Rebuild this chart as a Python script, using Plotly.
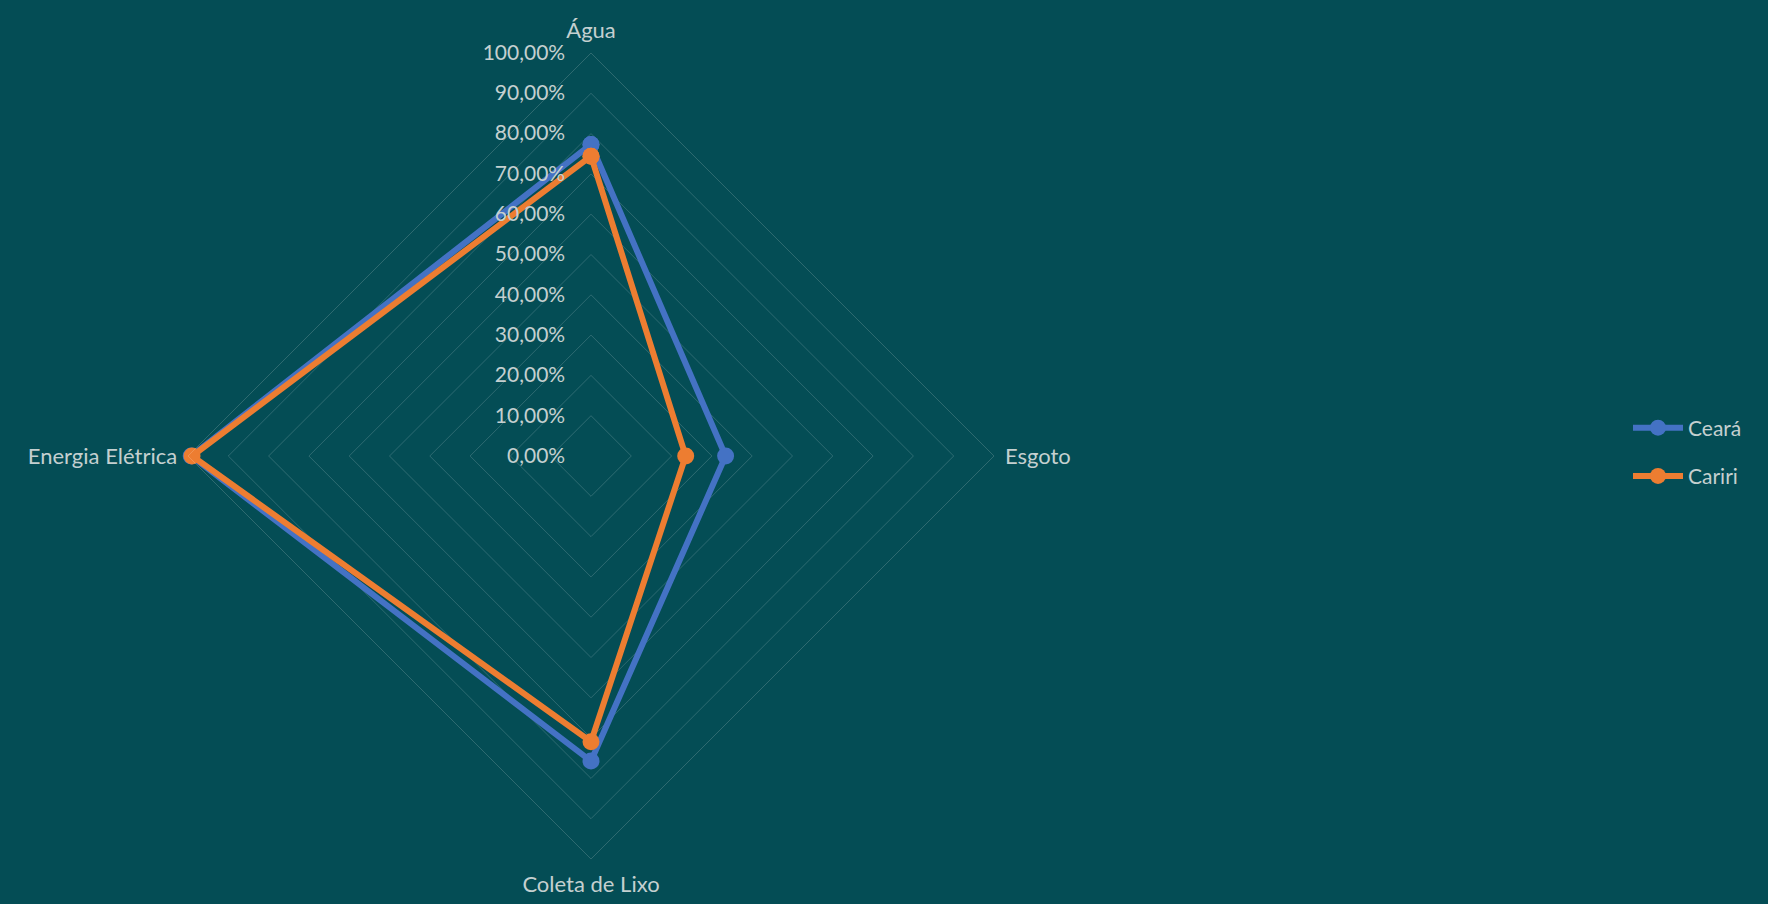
import plotly.graph_objects as go

categories = ["Água", "Esgoto", "Coleta de Lixo", "Energia Elétrica"]
ceara = [0.773, 0.334, 0.757, 0.992]
cariri = [0.744, 0.235, 0.709, 0.990]
series_names = ["Ceará", "Cariri"]
colors = ["#4472C4", "#ED7D31"]
tick_vals = [0, 0.1, 0.2, 0.3, 0.4, 0.5, 0.6, 0.7, 0.8, 0.9, 1.0]

BG = "#044D55"
TXT = "#C4D0D0"
GRID = "rgba(255,255,255,0.17)"

fig = go.Figure()
for name, vals, col in zip(series_names, [ceara, cariri], colors):
    fig.add_trace(go.Scatterpolar(
        r=vals + vals[:1],
        theta=categories + categories[:1],
        mode="lines+markers",
        name=name,
        legendgroup=name,
        line=dict(color=col, width=6),
        marker=dict(color=col, size=17),
    ))

W, H = 1768, 904
cx, cy, R = 591, 456, 403
fig.update_layout(
    width=W, height=H,
    paper_bgcolor=BG, plot_bgcolor=BG,
    separators=",.",
    margin=dict(l=0, r=0, t=0, b=0),
    font=dict(family="Lato, Open Sans, sans-serif", size=21, color=TXT),
    polar=dict(
        bgcolor=BG,
        gridshape="linear",
        domain=dict(x=[(cx - R) / W, (cx + R) / W], y=[1 - (cy + R) / H, 1 - (cy - R) / H]),
        radialaxis=dict(
            range=[0, 1],
            tickvals=tick_vals,
            tickformat=".2%",
            angle=90,
            tickangle=90,
            side="counterclockwise",
            showline=False,
            showgrid=True,
            gridcolor=GRID,
            gridwidth=1,
            ticks="outside",
            ticklen=18,
            tickcolor="rgba(0,0,0,0)",
            tickfont=dict(size=21, color=TXT),
        ),
        angularaxis=dict(
            direction="clockwise",
            rotation=90,
            showgrid=False,
            showline=True,
            linecolor=GRID,
            linewidth=1,
            ticks="outside",
            ticklen=6,
            tickcolor="rgba(0,0,0,0)",
            tickfont=dict(size=22, color=TXT),
        ),
    ),
    legend=dict(
        x=1628 / W, y=0.5, xanchor="left", yanchor="middle",
        font=dict(size=21, color=TXT),
        bgcolor="rgba(0,0,0,0)",
        itemwidth=50,
        tracegroupgap=18,
    ),
)

fig.write_html("out.html", config={"displayModeBar": False},
               post_script="document.body.style.margin='0';")
